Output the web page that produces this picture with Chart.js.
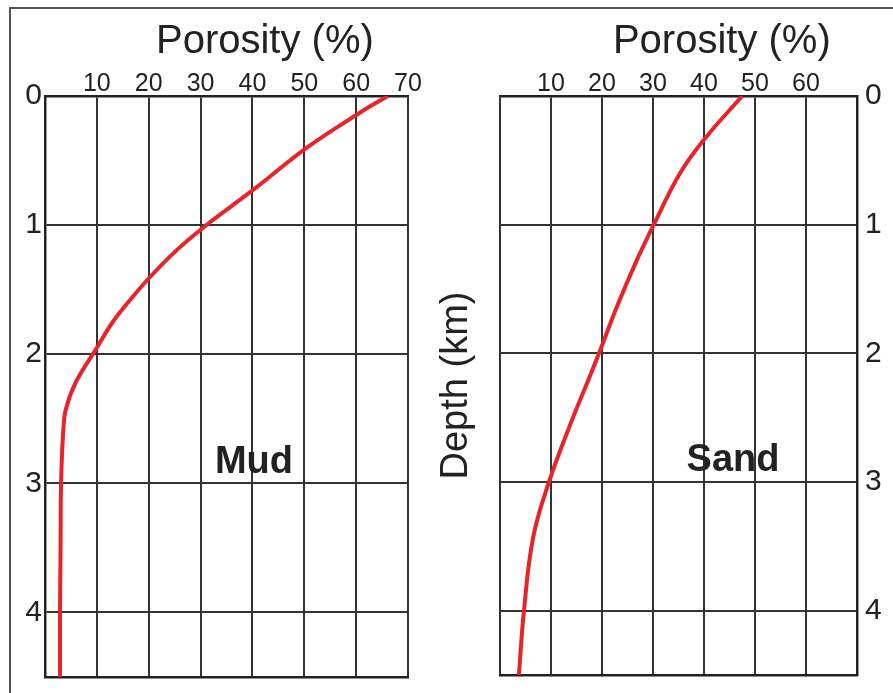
<!DOCTYPE html>
<html>
<head>
<meta charset="utf-8">
<script src="https://cdn.jsdelivr.net/npm/chart.js@4.4.1/dist/chart.umd.min.js"></script>
<style>
  html, body { margin: 0; padding: 0; background: #fff; }
  body { width: 893px; height: 693px; position: relative; overflow: hidden; }
  #frame {
    position: absolute; left: 9px; top: 7px; width: 890px; height: 684px;
    border-top: 2px solid #555; border-left: 2px solid #555; border-bottom: 1px solid #ddd;
  }
  /* boxes run a bit past the page bottom so the plot bottom is not pushed by label padding */
  .box { position: absolute; top: 0; height: 730px; }
  #mudBox { left: 0; width: 440px; }
  #sandBox { left: 430px; width: 463px; }
</style>
</head>
<body>
<div id="frame"></div>
<div class="box" id="mudBox"><canvas id="mud"></canvas></div>
<div class="box" id="sandBox"><canvas id="sand"></canvas></div>

<script>
// depth in km, porosity in %
const depthTicks = [0, 1, 2, 3, 4]
const mudPorosityTicks = [10, 20, 30, 40, 50, 60, 70]
const sandPorosityTicks = [10, 20, 30, 40, 50, 60]

const mudDepth    = [0, 0.13, 0.40, 0.71, 0.86, 1.02, 1.19, 1.40, 1.58, 1.76, 1.95, 2.22, 2.43, 2.61, 3.0, 3.5, 4.0, 4.5]
const mudPorosity = [66.1, 60.7, 50.5, 40.7, 35.7, 30.5, 25.5, 20.3, 16.4, 12.9, 10.0, 5.9, 4.0, 3.5, 3.1, 3.0, 2.9, 2.9]

const sandDepth    = [0, 0.32, 0.60, 0.98, 1.27, 1.64, 1.98, 2.21, 2.52, 3.0, 3.43, 4.0, 4.5]
const sandPorosity = [47.5, 40.4, 35.3, 30.4, 26.9, 22.9, 19.6, 17.3, 14.1, 9.6, 6.5, 4.7, 3.7]

const FONT = '"Liberation Sans", Arial, Helvetica, sans-serif'
const INK = '#222'
const GRID = '#333'

// little plugin for the free-floating texts (axis title + rock name)
const labelsPlugin = {
  id: 'labels',
  afterDatasetsDraw(chart, args, opts) {
    const { ctx, scales } = chart
    ctx.save()
    ctx.fillStyle = INK
    ctx.textAlign = 'center'
    ctx.textBaseline = 'middle'
    ctx.font = '40px ' + FONT
    ctx.fillText('Porosity (%)', scales.x.getPixelForValue(opts.titleAt), 42)
    ctx.font = 'bold 38px ' + FONT
    ctx.fillText(opts.name,
      scales.x.getPixelForValue(opts.nameAt[0]),
      scales.y.getPixelForValue(opts.nameAt[1]))
    ctx.restore()
  }
}

function points(depth, porosity) {
  return depth.map((d, i) => ({ x: porosity[i], y: d }))
}

function makeChart(id, opts) {

  const scales = {
    x: {
      type: 'linear',
      position: 'top',
      min: 0,
      max: 70,
      afterFit: s => { s.height = 96 },
      grid: { color: GRID, lineWidth: 2, drawTicks: false },
      border: { color: INK, width: 2.5 },
      ticks: {
        stepSize: 10,
        padding: -3,
        autoSkip: false,
        maxRotation: 0,
        color: INK,
        font: { family: FONT, size: 25 },
        callback: v => opts.xLabels.includes(v) ? String(v) : ''
      }
    },
    // bottom edge of the frame only
    xb: {
      type: 'linear',
      position: 'bottom',
      min: 0,
      max: 70,
      afterFit: s => { s.height = opts.bottom },
      grid: { display: false },
      border: { color: INK, width: 2.5 },
      ticks: { display: false }
    },
    y: {
      type: 'linear',
      position: opts.yPos,
      reverse: true,
      min: 0,
      max: 4.5,
      afterFit: s => { s.width = opts.yWidth },
      grid: { color: GRID, lineWidth: 2, drawTicks: false },
      border: { color: INK, width: 2.5 },
      ticks: {
        stepSize: 1,
        includeBounds: false,
        padding: opts.yPad,
        color: INK,
        font: { family: FONT, size: 30 },
        callback: v => depthTicks.includes(v) ? String(v) : ''
      }
    }
  }

  if (opts.depthTitle) {
    scales.yt = {
      type: 'linear',
      position: 'left',
      reverse: true,
      min: 0,
      max: 4.5,
      afterFit: s => { s.width = 70 },
      grid: { display: false },
      border: { display: false },
      ticks: { display: false },
      title: {
        display: true,
        text: 'Depth (km)',
        color: INK,
        padding: { top: 4, bottom: 0 },
        font: { family: FONT, size: 38 }
      }
    }
  }

  return new Chart(document.getElementById(id), {
    type: 'line',
    data: {
      datasets: [{
        data: points(opts.depth, opts.porosity),
        borderColor: '#e8232a',
        borderWidth: 4,
        pointRadius: 0,
        fill: false,
        tension: 0.4
      }]
    },
    options: {
      indexAxis: 'y',
      responsive: true,
      maintainAspectRatio: false,
      animation: false,
      layout: { padding: opts.padding },
      scales,
      plugins: {
        legend: { display: false },
        tooltip: { enabled: false },
        labels: { titleAt: opts.titleAt, name: opts.name, nameAt: opts.nameAt }
      }
    },
    plugins: [labelsPlugin]
  })
}

makeChart('mud', {
  depth: mudDepth,
  porosity: mudPorosity,
  xLabels: mudPorosityTicks,
  yPos: 'left',
  yWidth: 45,
  yPad: 3,
  bottom: 53,
  padding: { left: 0, top: 0, right: 32, bottom: 0 },
  titleAt: 42.4,
  name: 'Mud',
  nameAt: [40.3, 2.84]
})

makeChart('sand', {
  depth: sandDepth,
  porosity: sandPorosity,
  xLabels: sandPorosityTicks,
  yPos: 'right',
  yWidth: 36,
  yPad: 8,
  bottom: 55,
  depthTitle: true,
  padding: { left: 0, top: 0, right: 0, bottom: 0 },
  titleAt: 43.5,
  name: 'Sand',
  nameAt: [45.7, 2.83]
})
</script>
</body>
</html>
